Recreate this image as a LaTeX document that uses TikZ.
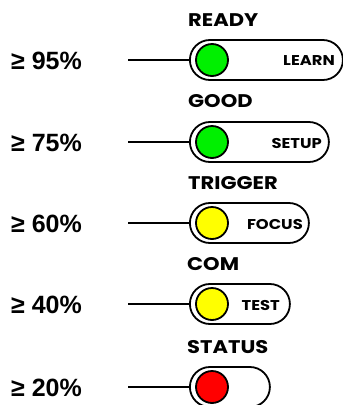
\documentclass[tikz,border=0pt]{standalone}
\usepackage{fontspec}
\setmainfont{Liberation Sans}
\newfontfamily\labfont{Poppins}[FakeStretch=1.15]
\definecolor{ledgreen}{RGB}{0,240,0}
\definecolor{ledyellow}{RGB}{255,255,0}
\definecolor{ledred}{RGB}{255,0,0}
\tikzset{
  pill/.style={draw=black, line width=1.8pt, rounded corners=20pt, minimum height=40pt, inner sep=0pt, anchor=west, fill=white},
  led/.style={draw=black, line width=1.8pt, circle, minimum size=32pt, inner sep=0pt},
  pct/.style={anchor=west, font=\bfseries\fontsize{25}{25}\selectfont, inner sep=0pt},
  title/.style={anchor=west, font=\labfont\bfseries\fontsize{18.3}{18}\selectfont, inner sep=0pt},
  btn/.style={anchor=east, font=\labfont\bfseries\fontsize{14.2}{14}\selectfont, inner sep=0pt},
  conn/.style={line width=1.8pt}
}
\begin{document}
\begin{tikzpicture}[x=1pt,y=-1pt]
\useasboundingbox (0,0) rectangle (343,405);
% row 1
\node[title] (t1) at (188,20) {READY};
\node[pill, minimum width=153pt] (p1) at (189,60) {};
\node[led, fill=ledgreen] (c1) at (212,60) {};
\node[btn] (b1) at (335,61) {LEARN};
\node[pct] (n1) at (11,61) {≥ 95\%};
\coordinate (l1) at (128,60);
\draw[conn] (l1) -- (p1.west);
% row 2
\node[title] (t2) at (188,101) {GOOD};
\node[pill, minimum width=139pt] (p2) at (189,142) {};
\node[led, fill=ledgreen] (c2) at (212,142) {};
\node[btn] (b2) at (322,143) {SETUP};
\node[pct] (n2) at (11,143) {≥ 75\%};
\coordinate (l2) at (128,142);
\draw[conn] (l2) -- (p2.west);
% row 3
\node[title] (t3) at (188,183) {TRIGGER};
\node[pill, minimum width=119pt] (p3) at (189,223) {};
\node[led, fill=ledyellow] (c3) at (212,223) {};
\node[btn] (b3) at (303,224) {FOCUS};
\node[pct] (n3) at (11,224) {≥ 60\%};
\coordinate (l3) at (128,223);
\draw[conn] (l3) -- (p3.west);
% row 4
\node[title] (t4) at (187,264) {COM};
\node[pill, minimum width=100pt] (p4) at (189,304) {};
\node[led, fill=ledyellow] (c4) at (212,304) {};
\node[btn] (b4) at (280,305) {TEST};
\node[pct] (n4) at (11,305) {≥ 40\%};
\coordinate (l4) at (128,304);
\draw[conn] (l4) -- (p4.west);
% row 5
\node[title] (t5) at (187,347) {STATUS};
\node[pill, minimum width=80pt] (p5) at (189,387) {};
\node[led, fill=ledred] (c5) at (212,387) {};
\node[pct] (n5) at (11,388) {≥ 20\%};
\coordinate (l5) at (128,387);
\draw[conn] (l5) -- (p5.west);
\end{tikzpicture}
\end{document}
